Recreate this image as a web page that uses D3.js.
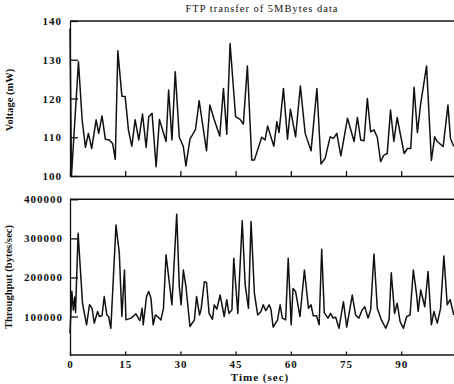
<!DOCTYPE html>
<html>
<head>
<meta charset="utf-8">
<script src="https://cdn.jsdelivr.net/npm/d3@7"></script>
<style>
  body { margin: 0; background: #fff; }
  svg { display: block; }
  text { font-family: "Liberation Serif", "Times New Roman", serif; fill: #111; }
</style>
</head>
<body>
<svg id="chart" width="454" height="384"></svg>
<script>
// data (time in sec)
const xTicks = [0, 15, 30, 45, 60, 75, 90];
const voltageTicks = [100, 110, 120, 130, 140];
const throughputTicks = [100000, 200000, 300000, 400000];

const voltageTime = [0, 0.4, 2.3, 3.3, 4.2, 5.0, 5.9, 7.1, 7.8, 8.7, 9.6, 10.7, 11.6, 12.3, 13.0, 14.1, 15.0,
  15.9, 16.8, 17.7, 18.7, 19.7, 20.7, 21.4, 22.3, 23.4, 24.3, 26.1, 26.8, 27.7, 28.6, 29.7, 30.8, 31.5,
  32.6, 34.1, 35.1, 37.1, 38.0, 39.2, 40.7, 41.7, 42.6, 43.5, 45.0, 46.2, 47.1, 48.2, 49.4, 50.1, 52.1,
  53.0, 53.7, 54.6, 55.4, 56.2, 56.8, 58.0, 59.1, 59.9, 61.3, 62.6, 63.9, 65.5, 67.1, 68.2, 69.3, 70.7,
  71.6, 72.5, 73.6, 75.4, 77.2, 78.1, 79.0, 79.9, 80.8, 81.7, 82.6, 83.5, 84.4, 85.3, 86.2, 87.1, 88.0,
  88.9, 90.8, 91.7, 92.6, 93.5, 94.4, 95.3, 96.9, 98.2, 99.1, 99.8, 101.4, 102.7, 103.4, 104.3];
const voltage = [138, 100, 129.5, 114.5, 107.4, 111, 107.1, 114.5, 111, 115.5, 109.5, 109.3, 108.3, 104.3, 132.3, 120.6, 120.5,
  111.7, 107.7, 114.5, 109.3, 116, 107.4, 115.3, 116.2, 102.4, 114.6, 108.9, 122.2, 109.3, 126.9, 110, 107.6, 102.6,
  109.5, 112, 119.4, 106.5, 118.3, 114.5, 110.3, 122.6, 110.8, 134.2, 115.3, 114.6, 113.4, 128.4, 104.1, 104.1, 110,
  109.3, 112.9, 110.1, 107.7, 114, 111.2, 122.6, 109.5, 117.2, 110.1, 123.2, 111, 106.5, 122.6, 103.1, 104.5, 110.1,
  109.7, 111, 105.2, 114.9, 108.9, 115.1, 109.3, 109.1, 120, 111.4, 111.9, 110, 103.7, 105.4, 105.8, 117, 108.9,
  115.1, 105.8, 107.1, 107.1, 122.9, 111.2, 118.7, 128.4, 104, 110.1, 108.9, 107.6, 118.3, 109.7, 107.6];

const throughputTime = [0, 0.5, 0.9, 1.3, 1.5, 2.2, 3.4, 4.5, 5.3, 6.0, 6.6, 7.5, 8.0, 8.7, 9.3, 10.0, 10.5, 11.1,
  12.5, 13.4, 14.1, 14.8, 15.2, 16.6, 17.9, 19.0, 19.6, 19.9, 20.8, 21.4, 22.0, 22.6, 23.2, 23.8, 24.7, 25.4,
  26.1, 26.8, 27.7, 29.0, 29.7, 30.2, 30.8, 31.5, 32.6, 33.8, 34.4, 35.2, 35.6, 36.5, 37.1, 37.8, 38.7, 39.2,
  39.9, 40.8, 41.4, 41.9, 42.6, 43.2, 44.0, 44.5, 45.6, 46.8, 47.6, 48.5, 49.2, 50.1, 51.0, 51.9, 52.5, 53.2,
  54.1, 54.6, 55.2, 56.4, 57.1, 57.7, 58.6, 59.3, 60.1, 60.6, 61.3, 62.5, 63.7, 64.8, 65.5, 66.1, 67.0, 67.7,
  68.4, 69.1, 70.1, 70.8, 71.5, 72.2, 73.1, 74.3, 75.2, 76.7, 77.6, 78.5, 79.4, 80.1, 81.0, 81.7, 82.6, 83.5,
  84.6, 85.8, 86.7, 87.3, 88.2, 88.9, 89.7, 90.6, 91.5, 92.4, 93.3, 94.2, 94.6, 95.3, 96.4, 97.3, 98.2, 98.9,
  99.8, 100.7, 101.6, 102.5, 103.3, 104.3];
const throughput = [57000, 165000, 117000, 150000, 110000, 313000, 134000, 78700, 130000, 121000, 83000, 113000, 100000, 102000, 151000, 104000, 100000, 70000,
  334000, 262000, 100000, 219000, 91500, 96000, 107000, 89700, 121000, 78700, 151000, 164000, 147000, 78700, 104000, 100000, 91500, 121000,
  258000, 202000, 130000, 362000, 177000, 130000, 219000, 177000, 74400, 91500, 151000, 104000, 117000, 189000, 187000, 108000, 93000, 130000,
  119000, 155000, 125000, 100000, 143000, 108000, 117000, 249000, 108000, 345000, 181000, 121000, 343000, 160000, 104000, 113000, 130000, 115000,
  130000, 119000, 73000, 91500, 130000, 96000, 91500, 249000, 78700, 172000, 164000, 100000, 219000, 121000, 130000, 102000, 102000, 78700,
  272000, 110000, 96000, 108000, 96000, 98000, 70000, 138000, 73000, 155000, 104000, 96000, 117000, 125000, 96000, 117000, 260000, 121000,
  91500, 70000, 91500, 212000, 108000, 134000, 87000, 70000, 100000, 104000, 219000, 155000, 113000, 168000, 125000, 215000, 78700, 113000,
  83000, 121000, 255000, 130000, 143000, 104000];

const svg = d3.select("#chart");
const left = 70, right = 456.4;

const x = d3.scaleLinear().domain([0, 105]).range([left, right]);
const yV = d3.scaleLinear().domain([100, 140]).range([176, 21]);
const yT = d3.scaleLinear().domain([0, 400000]).range([355.6, 199.3]);

function styleAxis(g) {
  g.selectAll("path, line").attr("stroke", "#111").attr("stroke-width", 1.3);
  g.selectAll(".tick text")
    .attr("font-size", 11)
    .attr("font-weight", "bold")
    .style("letter-spacing", "1px")
    .style("font-family", '"Liberation Serif", serif');
}

// title
svg.append("text")
  .attr("x", 262).attr("y", 12)
  .attr("text-anchor", "middle")
  .attr("font-size", 10.5)
  .style("letter-spacing", "1px")
  .text("FTP transfer of 5MBytes data");

// ---- top panel: voltage
svg.append("line")
  .attr("x1", left).attr("x2", 454)
  .attr("y1", 21).attr("y2", 21)
  .attr("stroke", "#111").attr("stroke-width", 1.5);

svg.append("g")
  .attr("transform", "translate(" + left + ",0)")
  .call(d3.axisLeft(yV).tickValues(voltageTicks).tickSize(-8).tickSizeOuter(0).tickPadding(8).tickFormat(d3.format("d")))
  .call(styleAxis);

svg.append("g")
  .attr("transform", "translate(0,176)")
  .call(d3.axisBottom(x).tickValues(xTicks).tickSize(-5).tickSizeOuter(0).tickFormat(""))
  .call(styleAxis);

svg.append("path")
  .datum(d3.zip(voltageTime, voltage))
  .attr("fill", "none")
  .attr("stroke", "#111")
  .attr("stroke-width", 1.5)
  .attr("stroke-linejoin", "round")
  .attr("d", d3.line().x((d) => x(d[0])).y((d) => yV(d[1])));

svg.append("text")
  .attr("transform", "translate(13,100) rotate(-90)")
  .attr("text-anchor", "middle")
  .attr("font-size", 10.5)
  .attr("font-weight", "bold")
  .text("Voltage (mW)");

// ---- bottom panel: throughput
svg.append("line")
  .attr("x1", left).attr("x2", 454)
  .attr("y1", 199.3).attr("y2", 199.3)
  .attr("stroke", "#111").attr("stroke-width", 1.5);

svg.append("g")
  .attr("transform", "translate(" + left + ",0)")
  .call(d3.axisLeft(yT).tickValues(throughputTicks).tickSize(-8).tickSizeOuter(0).tickPadding(7).tickFormat(d3.format("d")))
  .call(styleAxis);

svg.append("g")
  .attr("transform", "translate(0,354.5)")
  .call(d3.axisBottom(x).tickValues(xTicks).tickSize(-3).tickSizeOuter(0).tickPadding(6).tickFormat(d3.format("d")))
  .call(styleAxis);

svg.append("path")
  .datum(d3.zip(throughputTime, throughput))
  .attr("fill", "none")
  .attr("stroke", "#111")
  .attr("stroke-width", 1.5)
  .attr("stroke-linejoin", "round")
  .attr("d", d3.line().x((d) => x(d[0])).y((d) => yT(d[1])));

svg.append("text")
  .attr("transform", "translate(12,277) rotate(-90)")
  .attr("text-anchor", "middle")
  .attr("font-size", 10.5)
  .attr("font-weight", "bold")
  .text("Throughput (bytes/sec)");

svg.append("text")
  .attr("x", 260).attr("y", 381)
  .attr("text-anchor", "middle")
  .attr("font-size", 11)
  .attr("font-weight", "bold")
  .style("letter-spacing", "1px")
  .text("Time (sec)");
</script>
</body>
</html>
